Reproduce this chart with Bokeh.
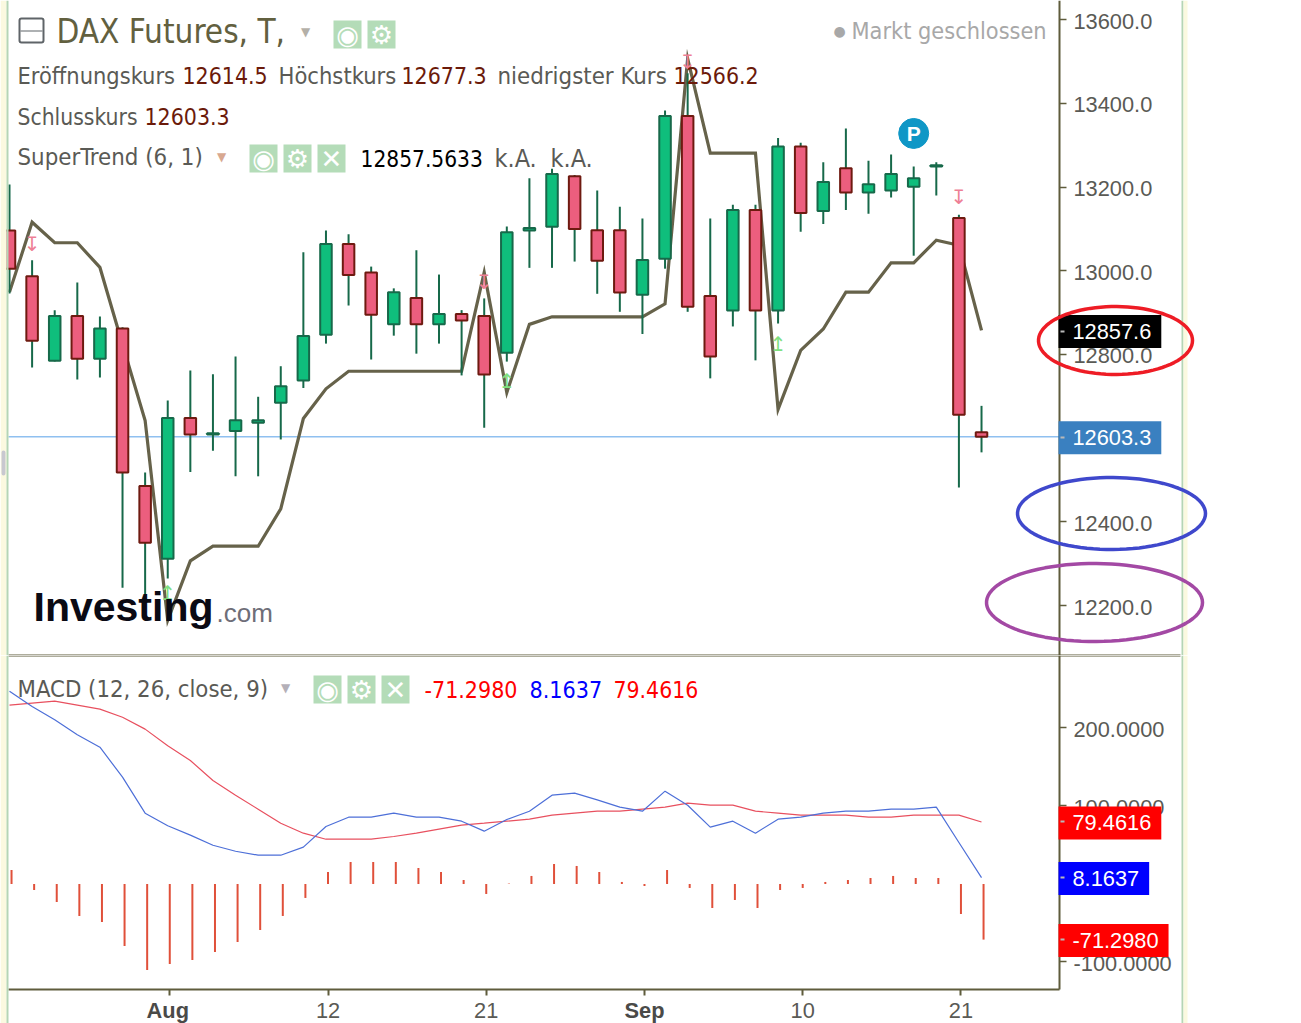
import numpy as np
from bokeh.plotting import figure
from bokeh.layouts import column
from bokeh.core.properties import value
from bokeh.models import (Range1d, LinearAxis, FixedTicker, Label, BoxAnnotation,
                          PolyAnnotation, ColumnDataSource)
from bokeh.transform import dodge
from bokeh.embed import file_html
from bokeh.resources import INLINE

# ---------- data ----------
opens = [13096,12987,12785,12892,12790,12862,12486,12312,12648,12609,12617,12637,12685,12738,12847,
         13064,12996,12872,12935,12872,12897,12892,12804,13096,13105,13226,13097,13097,12943,13029,
         13370,12940,12905,13145,12905,13297,13143,13245,13187,13192,13201,13249,13126,12614.5]
highs = [13206,13025,12906,12972,12891,12865,12518,12690,12762,12753,12795,12699,12772,13044,13096,
         13087,13010,12958,13049,12991,12906,12934,13106,13221,13244,13229,13192,13153,13125,13383,
         13472,13125,13158,13158,13317,13306,13259,13340,13263,13278,13249,13259,13134,12677.3]
lows = [12946,12769,12783,12740,12745,12243,12213,12265,12519,12570,12509,12509,12597,12720,12826,
        12917,12788,12845,12802,12826,12750,12625,12783,13007,13007,13022,12945,12902,12849,13005,
        12902,12743,12867,12786,12874,13093,13112,13145,13136,13175,13036,13180,12482,12566.2]
closes = [13005,12833,12892,12790,12862,12518,12350,12648,12609,12612,12643,12643,12724,12844,13064,
          12990,12895,12949,12872,12897,12881,12752,13092,13102,13231,13100,13024,12948,13026,13370,
          12914,12795,13145,12905,13297,13138,13212,13187,13207,13231,13221,13252,12656,12603.3]
supertrend = [12949,13116,13067,13067,13008,12824,12642,12165,12307,12342,12342,12342,12431,12647,12718,
              12760,12760,12760,12760,12760,12760,12996,12709,12872,12890,12890,12890,12890,12890,12921,
              13507,13281,13281,13281,12669,12810,12861,12949,12949,13019,13019,13073,13061,12857.6]
macd_line = [247.2,227.6,210.5,191.3,175.4,136.9,90.8,74.6,62.6,49.7,42,36.9,36.9,47.2,73.7,
             85.6,85.6,90.8,85.6,85.6,80.5,67.7,82.7,93.3,113.8,116.4,107.9,98.5,93.3,119,
             101,72.8,80.5,65.1,83.1,85.6,90.8,93.3,93.3,95.9,95.9,98.5,53.2,8.1637]
signal_line = [229.2,231.8,234.3,229.2,224.1,213.8,198.5,177.2,158.3,132.7,113.8,95.9,77.9,65.1,57.4,
               57.4,57.4,60.9,65.1,70.3,75.4,77.9,80.5,83.1,88.2,90.8,93.3,93.3,95.9,98.5,
               103.6,101,101,93.3,90.8,88.2,88.2,88.2,85.6,85.6,88.2,88.2,88.2,79.4616]
histogram = [17.9,-7.7,-23.1,-41,-48.7,-79.5,-110.2,-102.6,-97.4,-87.2,-74.4,-59,-41,-17.9,15.4,
             28.2,28.2,28.2,20.5,15.4,5.1,-12.8,0.5,10.3,25.6,23.1,15.4,2.6,-2.6,17.9,
             -5.1,-30.8,-20.5,-30.8,-7.7,-5.1,2.6,5.1,7.7,10.3,7.7,7.7,-38.5,-71.298]
price_ticks = [12200,12400,12600,12800,13000,13200,13400,13600]
macd_ticks = [-100,0,100,200]
date_ticks = [14,21,35,42]
date_labels = ["12","21","10","21"]
month_ticks = [7,28]
month_labels = ["Aug","Sep"]
down_idx = [1,21,30,42]
down_val = [13065,12974,13498,13176]
up_idx = [7,22,34]
up_val = [12231,12736,12824]

# ---------- style ----------
INK = "#5f5c3c"
GREY = "#5a5a55"
DARKRED = "#6b1a0a"
FONT = "DejaVu Sans Condensed"
AXF = "Liberation Sans"
X_PER = 22.605
W = 1301
P1_BOTTOM = 655
P2_BOTTOM = 1023
AXIS_PX = 1059
XAX = (AXIS_PX - 9) / X_PER
XMIN = (8 - 9) / X_PER
AX_BOTTOM_V = -135.3
xr = Range1d((0 - 9) / X_PER, (W - 9) / X_PER)
SHIFT = 0.09

p1 = figure(width=W, height=P1_BOTTOM, output_backend="svg", toolbar_location=None,
            x_range=xr, y_range=Range1d(12080.9, 13645.7), x_axis_location=None, y_axis_location=None,
            min_border=0)
p2 = figure(width=W, height=P2_BOTTOM - P1_BOTTOM, output_backend="svg", toolbar_location=None,
            x_range=xr, y_range=Range1d(-178.85, 292.9), x_axis_location=None, y_axis_location=None,
            min_border=0)
for p in (p1, p2):
    p.grid.visible = False
    p.outline_line_color = None
    p.background_fill_color = "white"
    p.border_fill_color = "white"


def axis(p, ticks, fmt, bounds):
    ax = LinearAxis(ticker=FixedTicker(ticks=ticks), major_label_overrides={t: "" for t in ticks},
                    fixed_location=XAX, bounds=bounds)
    ax.axis_line_color = INK
    ax.axis_line_width = 2
    ax.major_tick_line_color = INK
    ax.major_tick_line_width = 1.5
    ax.major_tick_out = 7
    ax.major_tick_in = 0
    ax.minor_tick_line_color = None
    p.add_layout(ax, "right")
    # tick texts sit slightly under their tick marks, as in the reference
    for t in ticks:
        p.add_layout(Label(x=XAX, y=t, x_offset=14, y_offset=-1.5, text=fmt.format(t), text_font=AXF,
                           text_font_size="21.8px", text_color=GREY, text_align="left", text_baseline="middle"))


axis(p1, price_ticks, "{:.1f}", (12080.9, 13645.7))
axis(p2, macd_ticks, "{:.4f}", (AX_BOTTOM_V, 292.9))


def bottom_of(p):
    return P1_BOTTOM if p is p1 else P2_BOTTOM


def txt(p, px, py, text, size, color, font=FONT, style="normal", align="left"):
    p.add_layout(Label(x=px, y=bottom_of(p) - py, x_units="screen", y_units="screen", text=text,
                       text_font=font, text_font_size=f"{size}px", text_color=color, text_font_style=style,
                       text_align=align, text_baseline="middle"))


def box(p, l, t, r, b, fill=None, line=None, lw=1, radius=0):
    p.add_layout(BoxAnnotation(left=l, right=r, top=bottom_of(p) - t, bottom=bottom_of(p) - b,
                               left_units="screen", right_units="screen", top_units="screen", bottom_units="screen",
                               fill_color=fill, fill_alpha=1 if fill else 0, line_color=line,
                               line_width=lw, line_alpha=1 if line else 0, border_radius=radius))


# ---------- price panel ----------
idx = list(range(len(opens)))
up_mask = [c >= o for o, c in zip(opens, closes)]
src = ColumnDataSource(dict(
    x=idx, high=highs, low=lows,
    top=[max(o, c) for o, c in zip(opens, closes)],
    bottom=[min(o, c) for o, c in zip(opens, closes)],
    fill=["#0fbe7c" if u else "#ec5e7e" for u in up_mask],
    edge=["#17694a" if u else "#6e1a10" for u in up_mask]))

p1.segment([XMIN], [closes[-1]], [XAX], [closes[-1]], line_color="#8fc0f0", line_width=1.5)
p1.line(idx, supertrend, line_color="#66624a", line_width=3.2, line_join="miter")
p1.segment("x", "high", "x", "low", source=src, line_color="#17694a", line_width=2)
p1.vbar("x", 0.51, "top", "bottom", source=src, fill_color="fill", line_color="edge", line_width=2)

p1.text(down_idx, down_val, text=["↧"] * len(down_idx), text_font=value("DejaVu Sans"), text_font_size="20px",
        text_color="#ee7f95", text_align="center", text_baseline="middle")
p1.text(up_idx, up_val, text=["↥"] * len(up_idx), text_font=value("DejaVu Sans"), text_font_size="20px",
        text_color="#7fe07f", text_align="center", text_baseline="middle")

p1.scatter([40.0], [13328], size=30, marker="circle", fill_color="#0f97c6", line_color="#0f97c6")
p1.text([40.0], [13328], text=["P"], text_font=value(AXF), text_font_style="bold", text_font_size="21px",
        text_color="white", text_align="center", text_baseline="middle")

# logo
txt(p1, 33, 606, "Investing", 41, "#0a0a14", AXF, "bold")
txt(p1, 216, 612, ".com", 26, "#6e6e78", AXF)


def tag(p, val, text, fill):
    p.add_layout(Label(x=XAX, y=val, x_offset=-1, y_offset=-1, text=text, text_font=AXF, text_font_size="21.8px",
                       text_color="white", text_baseline="middle", text_align="left",
                       background_fill_color=fill, padding=(14, 10, 9, 9)))


tag(p1, closes[-1], "12603.3", "#3a80c0")
tag(p1, supertrend[-1], "12857.6", "black")
tag(p2, signal_line[-1], "79.4616", "#ff0000")
tag(p2, macd_line[-1], "8.1637", "#0000ff")
tag(p2, histogram[-1], "-71.2980", "#ff0000")
for p, py in ((p1, 331), (p1, 437), (p2, 821), (p2, 877), (p2, 939)):
    box(p, 1060, py - 1, 1064, py + 1, fill="#b8b8b8")


def ellipse(p, cx, cy, rx, ry, color):
    t = np.linspace(0, 2 * np.pi, 90)
    xs = cx + rx * np.cos(t)
    ys = bottom_of(p) - (cy + ry * np.sin(t))
    p.add_layout(PolyAnnotation(xs=list(xs), ys=list(ys), xs_units="screen", ys_units="screen",
                                fill_alpha=0, line_color=color, line_alpha=1, line_width=3.5))


def icon(p, left, top, kind):
    box(p, left, top, left + 28, top + 28, fill="#b4dcb8")
    sym = {"eye": "◉", "gear": "⚙", "x": "✕"}[kind]
    txt(p, left + 14, top + 14, sym, 26, "white", "DejaVu Sans", "bold", align="center")


# header
box(p1, 19, 18, 43, 42, line="#5f6468", lw=2, radius=2)
box(p1, 20, 30, 42, 31, fill="#5f6468")
txt(p1, 56, 31, "DAX Futures, T,", 33, "#62603f")
txt(p1, 305, 31, "▼", 12, "#b4b0a8", "DejaVu Sans", align="center")
icon(p1, 333, 20, "eye")
icon(p1, 367, 20, "gear")
txt(p1, 839, 30, "●", 14, "#a8a8a8", "DejaVu Sans", align="center")
txt(p1, 851, 30, "Markt geschlossen", 23.3, "#a8a8a8")

row_items = [(17, 75, "Eröffnungskurs", GREY, 23.4), (182, 75, "12614.5", DARKRED, 22.9),
             (278, 75, "Höchstkurs", GREY, 23.5), (401, 75, "12677.3", DARKRED, 22.9),
             (497, 75, "niedrigster Kurs", GREY, 23.8), (673, 75, "12566.2", DARKRED, 22.9),
             (17, 116, "Schlusskurs", GREY, 22.7), (144, 116, "12603.3", DARKRED, 22.9),
             (17, 156, "SuperTrend (6, 1)", GREY, 23.8), (360, 158, "12857.5633", "#000000", 22.5),
             (494, 158, "k.A.", GREY, 25), (550, 158, "k.A.", GREY, 25)]
for x, y, s, c, fs in row_items:
    txt(p1, x, y, s, fs, c)
txt(p1, 221, 156, "▼", 12, "#d8a890", "DejaVu Sans", align="center")
icon(p1, 249, 144, "eye")
icon(p1, 283, 144, "gear")
icon(p1, 317, 144, "x")

# ---------- MACD panel ----------
xax = LinearAxis(ticker=FixedTicker(ticks=[t + SHIFT for t in date_ticks + month_ticks]),
                 major_label_overrides={t + SHIFT: l for t, l in zip(date_ticks + month_ticks, date_labels + ["", ""])},
                 fixed_location=AX_BOTTOM_V, bounds=(XMIN, XAX))
xax.axis_line_color = INK
xax.axis_line_width = 2
xax.major_tick_line_color = INK
xax.major_tick_line_width = 2
xax.major_tick_out = 6
xax.major_tick_in = 0
xax.minor_tick_line_color = None
xax.major_label_standoff = 7
xax.major_label_text_font = AXF
xax.major_label_text_font_size = "21.8px"
xax.major_label_text_color = GREY
p2.add_layout(xax, "below")

for t, l, off in zip(month_ticks, month_labels, (-2, 0)):
    p2.add_layout(Label(x=t + SHIFT, y=-162.2, x_offset=off, text=l, text_font=AXF, text_font_style="bold",
                        text_font_size="21.8px", text_color="#4a4a48", text_align="center", text_baseline="middle"))

hsrc = ColumnDataSource(dict(x=idx, h=histogram, z=[0] * len(idx)))
p2.vbar(dodge("x", SHIFT, range=xr), 2 / X_PER, "h", "z", source=hsrc, fill_color="#e0503a", line_color=None)
p2.line(idx, signal_line, line_color="#e8505f", line_width=1.2)
p2.line(idx, macd_line, line_color="#4d6fd8", line_width=1.2)

box(p1, 8, 654, 1180, 655, fill=INK)
box(p2, 8, 655, 1180, 656, fill=INK)

for p, top, bot in ((p1, 0, P1_BOTTOM), (p2, P1_BOTTOM, P2_BOTTOM)):
    box(p, 1181, top, 1183, bot, fill="#b5d5b5")
    box(p, 1183, top, 1187, bot, fill="#fbf9e0")
    box(p, 0, top, 6, bot, fill="#fbf9e0")
    box(p, 6, top, 8, bot, fill="#b5d5b5")
box(p1, 1, 450, 5, 475, fill="#c8c8d0", radius=2)

ellipse(p1, 1115, 340, 77, 34, "#ee1c25")
ellipse(p1, 1111, 513, 94, 36, "#3f48cc")
ellipse(p1, 1094, 602, 108, 39, "#a349a4")

txt(p2, 17, 688, "MACD (12, 26, close, 9)", 23.7, GREY)
txt(p2, 285, 687, "▼", 12, "#b4b0b8", "DejaVu Sans", align="center")
icon(p2, 313, 675, "eye")
icon(p2, 347, 675, "gear")
icon(p2, 381, 675, "x")
txt(p2, 424, 689, "-71.2980", 23, "#ff0000")
txt(p2, 529, 689, "8.1637", 23.1, "#0000ff")
txt(p2, 613, 689, "79.4616", 22.8, "#ff0000")

layout = column(p1, p2, spacing=0)
open("out.html", "w").write(file_html(layout, INLINE))
